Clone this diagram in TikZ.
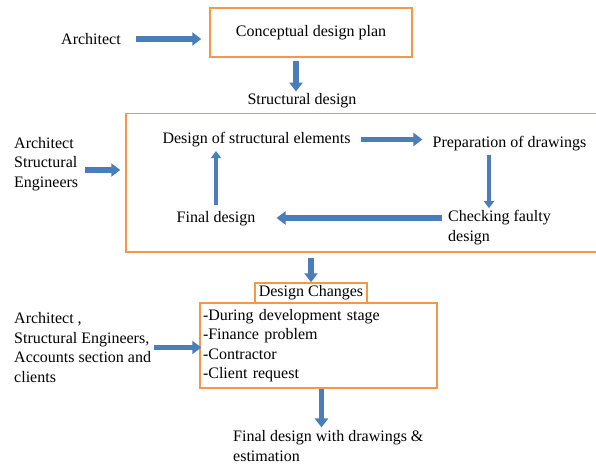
\documentclass[tikz,border=0pt]{standalone}
\usepackage{fontspec}
\setmainfont{Liberation Serif}
\usetikzlibrary{arrows.meta, positioning}
\definecolor{boxorange}{HTML}{F79646}
\definecolor{flowblue}{HTML}{4A7EBB}

\begin{document}
\begin{tikzpicture}
    [font=\fontsize{16}{19.5}\selectfont, x=1pt, y=-1pt,
     stagebox/.style={draw=boxorange, line width=1.5pt, inner sep=0pt},
     txt/.style={inner sep=0pt, align=left},
     flow/.style={draw=flowblue, line width=5.5pt,
                  -{Triangle[width=13pt, length=9pt]}},
     thinflow/.style={draw=flowblue, line width=4pt,
                      -{Triangle[width=10pt, length=7pt]}},
    ]
    \useasboundingbox (0,0) rectangle (596,466);

    % Conceptual stage
    \node[txt] (archA) at (91,39) {Architect};
    \node[stagebox, minimum width=202pt, minimum height=49pt]
        (concept) at (311,32.5) {Conceptual design plan};
    \node[txt] (structlbl) at (302,101) {Structural design};

    % Structural design loop
    \node[stagebox, minimum width=472pt, minimum height=138.5pt]
        (design) at (362,182.75) {};
    \node[txt, anchor=west] (archB) at (14,164)
        {Architect\\Structural\\Engineers};
    \node[txt] (elems) at (256.5,139.5) {Design of structural elements};
    \node[txt] (prep) at (509.5,143.5) {Preparation of drawings};
    \node[txt, anchor=west] (check) at (448,227.5) {Checking faulty\\design};
    \node[txt] (final) at (216,218.5) {Final design};

    % Design changes
    \node[stagebox, minimum width=112pt, minimum height=20pt]
        (changes) at (311,293) {Design Changes};
    \node[stagebox, minimum width=237pt, minimum height=85pt,
          text width=231pt, align=left, inner xsep=3pt]
        (list) at (318.5,345.5)
        {-During development stage\\-Finance problem\\-Contractor\\-Client request};
    \node[txt, anchor=west] (archC) at (14,347.5)
        {Architect ,\\Structural Engineers,\\Accounts section and\\clients};
    \node[txt, anchor=west] (final2) at (233,446)
        {Final design with drawings \&\\estimation};

    % Free ends
    \coordinate (archBtail) at ([yshift=-6pt]archB.east);
    \coordinate (checktail) at ([yshift=9.5pt]check.west);

    % Arrows
    \draw[flow, shorten <=15pt, shorten >=8pt] (archA) -- (concept.west |- archA);
    \draw[flow, shorten <=3pt, shorten >=2pt]
        ([xshift=-15pt]concept.south) -- ([xshift=-6pt]structlbl.north);
    \draw[flow, shorten <=7pt, shorten >=5pt] (archBtail) -- (archBtail -| design.west);
    \draw[flow, shorten <=10pt, shorten >=10pt] (elems.east) -- (elems.east -| prep.west);
    \draw[thinflow, shorten <=4pt, shorten >=2pt]
        ([xshift=-20.5pt]prep.south) -- ([xshift=-20.5pt]prep.south |- check.north);
    \draw[flow, shorten <=6pt, shorten >=21pt] (checktail) -- (checktail -| final.east);
    \draw[thinflow, shorten <=6pt, shorten >=4pt] (final.north) -- (final.north |- elems.south);
    \draw[flow, shorten <=5pt] (design.south -| changes.north) -- (changes.north);
    \draw[flow, shorten <=3pt, shorten >=-2pt] (archC.east) -- (archC.east -| list.west);
    \draw[flow, shorten >=3pt]
        ([xshift=3pt]list.south) -- ([xshift=3pt]list.south |- final2.north);
\end{tikzpicture}
\end{document}
